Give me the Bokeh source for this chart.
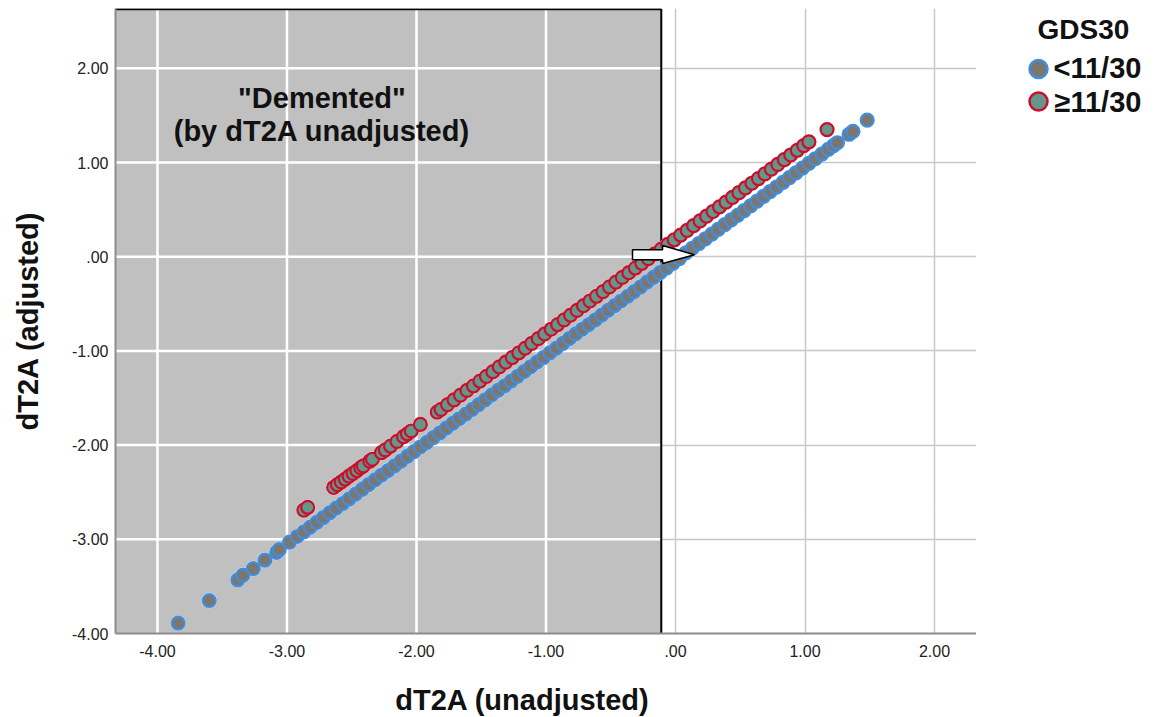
from bokeh.plotting import figure
from bokeh.models import Range1d, FixedTicker, BoxAnnotation, Label
from bokeh.layouts import row, column
from bokeh.embed import file_html
from bokeh.resources import INLINE

# ---------------- data ----------------
x_ticks = [-4, -3, -2, -1, 0, 1, 2]
x_tick_labels = ["-4.00", "-3.00", "-2.00", "-1.00", ".00", "1.00", "2.00"]
y_ticks = [-4, -3, -2, -1, 0, 1, 2]
y_tick_labels = ["-4.00", "-3.00", "-2.00", "-1.00", ".00", "1.00", "2.00"]

series_names = ["<11/30", "\u226511/30"]
legend_title = "GDS30"

# GDS30 < 11/30
low_x = [
    -3.84, -3.60, -3.38, -3.34, -3.26, -3.17, -3.08, -3.06, -2.98,
    -2.92, -2.87, -2.82, -2.77, -2.72, -2.67, -2.62, -2.57, -2.52, -2.47,
    -2.42, -2.37, -2.32, -2.27, -2.22, -2.17, -2.12, -2.07, -2.02, -1.97,
    -1.92, -1.87, -1.82, -1.77, -1.72, -1.67, -1.62, -1.57, -1.52, -1.47,
    -1.42, -1.37, -1.32, -1.27, -1.22, -1.17, -1.12, -1.07, -1.02, -0.97,
    -0.92, -0.87, -0.82, -0.77, -0.72, -0.67, -0.62, -0.57, -0.52, -0.47,
    -0.42, -0.37, -0.32, -0.27, -0.22, -0.17, -0.12, -0.07, -0.02, 0.03,
    0.08, 0.13, 0.18, 0.23, 0.28, 0.33, 0.38, 0.43, 0.48, 0.53,
    0.58, 0.63, 0.68, 0.73, 0.78, 0.83, 0.88, 0.93, 0.98, 1.03,
    1.08, 1.13, 1.18, 1.22, 1.25,
    1.34, 1.37, 1.48,
]
low_y = [
    -3.89, -3.65, -3.43, -3.38, -3.31, -3.22, -3.14, -3.11, -3.03,
    -2.97, -2.92, -2.87, -2.82, -2.77, -2.72, -2.67, -2.62, -2.57, -2.52,
    -2.47, -2.42, -2.37, -2.32, -2.27, -2.22, -2.17, -2.12, -2.07, -2.02,
    -1.97, -1.92, -1.87, -1.82, -1.77, -1.72, -1.67, -1.62, -1.57, -1.52,
    -1.47, -1.42, -1.37, -1.32, -1.27, -1.22, -1.17, -1.12, -1.07, -1.02,
    -0.97, -0.92, -0.87, -0.82, -0.77, -0.72, -0.67, -0.62, -0.57, -0.52,
    -0.47, -0.42, -0.37, -0.32, -0.27, -0.22, -0.17, -0.12, -0.07, -0.02,
    0.04, 0.09, 0.14, 0.19, 0.24, 0.29, 0.34, 0.39, 0.44, 0.49,
    0.54, 0.59, 0.64, 0.69, 0.74, 0.79, 0.84, 0.89, 0.94, 0.99,
    1.04, 1.09, 1.14, 1.18, 1.21,
    1.30, 1.33, 1.45,
]

# GDS30 >= 11/30
high_x = [
    -2.87, -2.84,
    -2.64, -2.61, -2.58, -2.55, -2.52, -2.49, -2.46, -2.43, -2.41,
    -2.36, -2.34, -2.27, -2.24, -2.20, -2.15, -2.10, -2.07, -2.04,
    -1.97,
    -1.84, -1.81, -1.76, -1.71, -1.66, -1.61, -1.56, -1.51, -1.46,
    -1.41, -1.36, -1.31, -1.26, -1.21, -1.16, -1.11, -1.06, -1.01,
    -0.96, -0.91, -0.86, -0.81, -0.76, -0.71, -0.66, -0.61, -0.56,
    -0.51, -0.46, -0.41, -0.36, -0.31, -0.26, -0.21, -0.16, -0.11,
    -0.06, -0.01, 0.04, 0.09, 0.14, 0.19, 0.24, 0.29, 0.34,
    0.39, 0.44, 0.49, 0.54, 0.59, 0.64, 0.69, 0.74, 0.79,
    0.84, 0.89, 0.94, 0.99, 1.03,
    1.17,
]
high_y = [
    -2.69, -2.66,
    -2.45, -2.42, -2.39, -2.36, -2.33, -2.30, -2.27, -2.24, -2.22,
    -2.17, -2.15, -2.08, -2.05, -2.01, -1.96, -1.91, -1.88, -1.85,
    -1.78,
    -1.65, -1.62, -1.57, -1.52, -1.47, -1.42, -1.37, -1.32, -1.27,
    -1.22, -1.17, -1.12, -1.07, -1.02, -0.97, -0.92, -0.87, -0.82,
    -0.77, -0.72, -0.67, -0.62, -0.57, -0.52, -0.47, -0.42, -0.37,
    -0.32, -0.27, -0.22, -0.17, -0.12, -0.07, -0.02, 0.03, 0.08,
    0.13, 0.18, 0.23, 0.28, 0.33, 0.38, 0.43, 0.48, 0.53,
    0.58, 0.63, 0.68, 0.73, 0.78, 0.83, 0.88, 0.93, 0.98,
    1.03, 1.08, 1.13, 1.18, 1.22,
    1.35,
]

demented_cutoff = -0.11  # unadjusted dT2A cut-off for "Demented"

# ---------------- styles ----------------
FONT = "Liberation Sans"
X0, X1 = -4.324, 2.324
Y0, Y1 = -4.0, 2.635
BLUE = "#3f8ee0"
RED = "#c8102e"
FILL_LOW = "#7d766f"
FILL_HIGH = "#66968a"
MAIN_H = 672

p = figure(width=976, height=MAIN_H, output_backend="svg", toolbar_location=None,
           x_range=Range1d(X0, X1), y_range=Range1d(Y0, Y1),
           min_border_left=115, min_border_right=0, min_border_top=8,
           min_border_bottom=39)
p.outline_line_color = None
p.background_fill_color = "white"

# shaded "Demented" region
shade = BoxAnnotation(right=demented_cutoff, fill_color="#c0c0c0", fill_alpha=1.0,
                      line_color=None, level="image")
p.add_layout(shade)

# axes
for ax, ticks, labels in ((p.xaxis[0], x_ticks, x_tick_labels), (p.yaxis[0], y_ticks, y_tick_labels)):
    ax.ticker = FixedTicker(ticks=ticks)
    ax.major_label_overrides = {t: l for t, l in zip(ticks, labels)}
    ax.major_tick_line_color = None
    ax.minor_tick_line_color = None
    ax.major_tick_out = 0
    ax.major_tick_in = 0
    ax.axis_line_color = "#8c8c8c"
    ax.axis_line_width = 2
    ax.major_label_text_font = FONT
    ax.major_label_text_font_size = "16px"
    ax.major_label_text_color = "#222222"
    ax.axis_label_text_font = FONT
    ax.axis_label_text_font_size = "29px"
    ax.axis_label_text_font_style = "bold"
    ax.axis_label_text_color = "#111111"

p.yaxis.axis_label = "dT2A (adjusted)"
p.xaxis.major_label_standoff = 11
p.yaxis.major_label_standoff = 7
p.yaxis.axis_label_standoff = 25

p.xgrid.ticker = FixedTicker(ticks=x_ticks)
p.ygrid.ticker = FixedTicker(ticks=y_ticks)
p.grid.grid_line_color = "#c8c8c8"
p.grid.grid_line_width = 1.5

# white gridlines inside shaded area
gx = [[t, t] for t in x_ticks if t < demented_cutoff] + \
     [[X0, demented_cutoff] for t in y_ticks if t > Y0]
gy = [[Y0, Y1] for t in x_ticks if t < demented_cutoff] + \
     [[t, t] for t in y_ticks if t > Y0]
p.multi_line(gx, gy, line_color="white", line_width=2.5)

# black border of shaded area
p.line([X0, demented_cutoff, demented_cutoff], [Y1 - 0.008, Y1 - 0.008, Y0],
       line_color="black", line_width=2)

# points (white halo + marker)
p.scatter(low_x, low_y, size=15.5, fill_color="white", line_color=None)
p.scatter(low_x, low_y, size=13, fill_color=FILL_LOW, line_color=BLUE, line_width=2.2)
p.scatter(high_x, high_y, size=15.5, fill_color="white", line_color=None)
p.scatter(high_x, high_y, size=13, fill_color=FILL_HIGH, line_color=RED, line_width=2.2)

# arrow at the cut-off
arrow_xs = [-0.332, -0.100, -0.100, 0.147, -0.100, -0.100, -0.332]
arrow_ys = [0.073, 0.073, 0.119, 0.020, -0.072, -0.033, -0.033]
p.patch(arrow_xs, arrow_ys, fill_color="white", line_color="black", line_width=1.5)

# annotation text
for yy, txt in ((1.69, '"Demented"'), (1.33, "(by dT2A unadjusted)")):
    p.add_layout(Label(x=-2.73, y=yy, text=txt, text_align="center",
                       text_baseline="middle", text_font=FONT,
                       text_font_size="29px", text_font_style="bold",
                       text_color="#111111"))

# ---------------- x-axis title strip ----------------
xt = figure(width=976, height=717 - MAIN_H, output_backend="svg", toolbar_location=None,
            x_range=Range1d(0, 976), y_range=Range1d(717 - MAIN_H, 0),
            x_axis_location=None, y_axis_location=None, min_border=0)
xt.outline_line_color = None
xt.grid.visible = False
xt.add_layout(Label(x=522, y=27, text="dT2A (unadjusted)", text_align="center",
                    text_baseline="middle", text_font=FONT, text_font_size="29px",
                    text_font_style="bold", text_color="#111111"))

# ---------------- legend panel ----------------
leg = figure(width=185, height=MAIN_H, output_backend="svg", toolbar_location=None,
             x_range=Range1d(0, 185), y_range=Range1d(MAIN_H, 0),
             x_axis_location=None, y_axis_location=None,
             min_border=0)
leg.outline_line_color = None
leg.grid.visible = False

leg.add_layout(Label(x=107, y=23, text=legend_title, text_align="center",
                     text_baseline="middle", text_font=FONT, text_font_size="28px",
                     text_font_style="bold", text_color="#111111"))
leg.scatter([62, 62], [65, 100], size=18, fill_color=[FILL_LOW, FILL_HIGH],
            line_color=[BLUE, RED], line_width=2.5)
for yy, xx, txt in ((64, 77, series_names[0]), (100, 78, series_names[1])):
    leg.add_layout(Label(x=xx, y=yy, text=txt, text_align="left",
                         text_baseline="middle", text_font=FONT,
                         text_font_size="29px", text_font_style="bold",
                         text_color="#111111"))

layout = column(row(p, leg), xt)
open("out.html", "w").write(file_html(layout, INLINE))
